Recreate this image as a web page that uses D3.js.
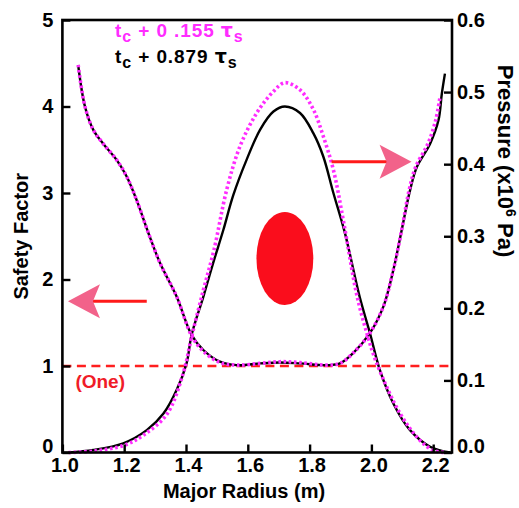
<!DOCTYPE html>
<html>
<head>
<meta charset="utf-8">
<script src="https://cdn.jsdelivr.net/npm/d3@7"></script>
<style>
  body { margin: 0; background: #fff; }
  #chart { width: 519px; height: 508px; }
  text { font-family: "Liberation Sans", Arial, Helvetica, sans-serif; font-weight: bold; }
</style>
</head>
<body>
<div id="chart"></div>
<script>
// safety factor q(R), two times
const qRadiusLate = [1.051, 1.073, 1.10, 1.132, 1.176, 1.208, 1.24, 1.278, 1.316, 1.37, 1.418, 1.456, 1.51, 1.564, 1.64, 1.704, 1.769, 1.855, 1.898, 1.941, 1.995, 2.039, 2.071, 2.098, 2.125, 2.147, 2.19, 2.217, 2.228, 2.238];
const qLate = [4.48, 4.0, 3.73, 3.57, 3.38, 3.19, 2.92, 2.54, 2.19, 1.80, 1.36, 1.185, 1.05, 1.01, 1.03, 1.04, 1.03, 1.01, 1.03, 1.15, 1.38, 1.69, 2.11, 2.57, 3.03, 3.30, 3.57, 3.84, 4.15, 4.38];
const qRadiusEarly = [1.051, 1.073, 1.10, 1.132, 1.176, 1.208, 1.24, 1.278, 1.316, 1.37, 1.418, 1.456, 1.51, 1.564, 1.64, 1.704, 1.769, 1.855, 1.898, 1.941, 1.995, 2.039, 2.071, 2.098, 2.122, 2.143, 2.183, 2.208, 2.222];
const qEarly = [4.48, 4.0, 3.73, 3.57, 3.38, 3.19, 2.92, 2.54, 2.19, 1.80, 1.35, 1.17, 1.04, 1.01, 1.03, 1.05, 1.04, 1.01, 1.03, 1.15, 1.38, 1.69, 2.11, 2.57, 3.03, 3.30, 3.57, 3.84, 4.11];

// pressure (x10^6 Pa)
const pRadiusLate = [1.02, 1.10, 1.197, 1.273, 1.327, 1.37, 1.402, 1.418, 1.456, 1.488, 1.521, 1.553, 1.596, 1.64, 1.683, 1.72, 1.769, 1.812, 1.844, 1.877, 1.914, 1.962, 1.995, 2.027, 2.071, 2.125, 2.19, 2.254];
const pLate = [0.0, 0.0035, 0.0128, 0.031, 0.054, 0.087, 0.124, 0.163, 0.216, 0.263, 0.309, 0.357, 0.406, 0.448, 0.473, 0.480, 0.471, 0.443, 0.411, 0.360, 0.305, 0.216, 0.166, 0.115, 0.068, 0.031, 0.008, 0.0];
const pRadiusEarly = [1.02, 1.1, 1.2, 1.262, 1.338, 1.391, 1.418, 1.456, 1.49, 1.532, 1.575, 1.629, 1.683, 1.72, 1.769, 1.812, 1.844, 1.877, 1.91, 1.952, 1.985, 2.017, 2.093, 2.157, 2.2, 2.24];
const pEarly = [0, 0.002, 0.01, 0.024, 0.053, 0.11, 0.16, 0.225, 0.28, 0.365, 0.425, 0.471, 0.501, 0.513, 0.503, 0.476, 0.439, 0.392, 0.32, 0.22, 0.166, 0.124, 0.054, 0.017, 0.003, 0];

// ticks
const radiusTicks = [1.0, 1.2, 1.4, 1.6, 1.8, 2.0, 2.2];
const qTicks = [0, 1, 2, 3, 4, 5];
const pTicks = [0.0, 0.1, 0.2, 0.3, 0.4, 0.5, 0.6];

// annotations (data units)
const plasma = {R: 1.72, q: 2.243, rR: 0.092, rq: 0.538};
const arrowQ = {from: 1.273, to: 1.018, q: 1.75};
const arrowP = {from: 1.871, to: 2.13, q: 3.36};

const width = 519, height = 508;
const margin = {top: 20, right: 67, bottom: 55.5, left: 62.4};
const plotWidth = width - margin.left - margin.right;
const plotHeight = height - margin.top - margin.bottom;

const svg = d3.select("#chart").append("svg")
    .attr("width", width)
    .attr("height", height);

const x = d3.scaleLinear().domain([1.0, 1.0 + plotWidth / 309]).range([margin.left, margin.left + plotWidth]);
const yQ = d3.scaleLinear().domain([0, 5]).range([margin.top + plotHeight, margin.top]);
const yP = d3.scaleLinear().domain([0, 0.6]).range([margin.top + plotHeight, margin.top]);

// q = 1 line
svg.append("line")
    .attr("x1", x.range()[0]).attr("x2", x.range()[1])
    .attr("y1", yQ(1)).attr("y2", yQ(1))
    .attr("stroke", "#ff1f1f").attr("stroke-width", 2.6)
    .attr("stroke-dasharray", "9,5.5");

svg.append("text")
    .attr("x", x(1.0) + 13).attr("y", yQ(1) + 22)
    .attr("font-size", 19).attr("fill", "#f01c28")
    .text("(One)");

// plasma cross-section
svg.append("ellipse")
    .attr("cx", x(plasma.R)).attr("cy", yQ(plasma.q))
    .attr("rx", x(plasma.R + plasma.rR) - x(plasma.R))
    .attr("ry", yQ(plasma.q) - yQ(plasma.q + plasma.rq))
    .attr("fill", "#fa0d1c");

// curves
const lineQ = d3.line().x(d => x(d[0])).y(d => yQ(d[1])).curve(d3.curveCatmullRom.alpha(0.5));
const lineP = d3.line().x(d => x(d[0])).y(d => yP(d[1])).curve(d3.curveCatmullRom.alpha(0.5));

const series = [
    {path: lineQ(d3.zip(qRadiusLate, qLate)), late: true},
    {path: lineP(d3.zip(pRadiusLate, pLate)), late: true},
    {path: lineQ(d3.zip(qRadiusEarly, qEarly)), late: false},
    {path: lineP(d3.zip(pRadiusEarly, pEarly)), late: false}
];

svg.append("g").attr("id", "plot")
  .selectAll("path")
  .data(series)
  .join("path")
    .attr("d", d => d.path)
    .attr("fill", "none")
    .attr("stroke", d => d.late ? "#000" : "#ff2cff")
    .attr("stroke-width", d => d.late ? 2.4 : 3.6)
    .attr("stroke-dasharray", d => d.late ? null : "2.6,2.6");

// arrows
function arrow(a) {
    const x0 = x(a.from), x1 = x(a.to), y0 = yQ(a.q);
    const dir = Math.sign(x1 - x0);
    const g = svg.append("g");
    g.append("line")
        .attr("x1", x0).attr("x2", x1 - dir * 24)
        .attr("y1", y0).attr("y2", y0)
        .attr("stroke", "#ff1a1a").attr("stroke-width", 3);
    g.append("path")
        .attr("d", `M${x1},${y0} L${x1 - dir * 32},${y0 - 17} L${x1 - dir * 25},${y0} L${x1 - dir * 32},${y0 + 17} Z`)
        .attr("fill", "#f2628a");
}
arrow(arrowQ);
arrow(arrowP);

// axes
const axisFont = g => g.selectAll("text").attr("font-size", 20).attr("fill", "#000")
    .attr("font-family", "'Liberation Sans', Arial, sans-serif").attr("font-weight", "bold");

svg.append("g").attr("class", "xAxis")
    .attr("transform", `translate(0,${margin.top + plotHeight})`)
    .call(d3.axisBottom(x).tickValues(radiusTicks).tickFormat(d3.format(".1f"))
        .tickSizeInner(-8).tickSizeOuter(0).tickPadding(5))
    .call(axisFont)
    .call(g => g.select(".domain").remove())
    .call(g => g.selectAll("text").attr("dx", 2));

svg.append("g").attr("class", "yAxis")
    .attr("transform", `translate(${margin.left},0)`)
    .call(d3.axisLeft(yQ).tickValues(qTicks).tickFormat(d3.format("d"))
        .tickSizeInner(-8).tickSizeOuter(0).tickPadding(9))
    .call(axisFont)
    .call(g => g.select(".domain").remove())
    .call(g => g.selectAll(".tick text").filter(d => d === 0).attr("dy", "-0.02em"));

svg.append("g").attr("class", "yAxisRight")
    .attr("transform", `translate(${margin.left + plotWidth},0)`)
    .call(d3.axisRight(yP).tickValues(pTicks).tickFormat(d3.format(".1f"))
        .tickSizeInner(-8).tickSizeOuter(0).tickPadding(5))
    .call(axisFont)
    .call(g => g.select(".domain").remove())
    .call(g => g.selectAll(".tick text").filter(d => d === 0).attr("dy", "-0.02em"));

svg.selectAll(".tick line").attr("stroke", "#000").attr("stroke-width", 2.4);

// frame
svg.append("rect")
    .attr("x", margin.left).attr("y", margin.top)
    .attr("width", plotWidth).attr("height", plotHeight)
    .attr("fill", "none").attr("stroke", "#000").attr("stroke-width", 2.6);

// axis titles
svg.append("text")
    .attr("x", 244).attr("y", 498)
    .attr("text-anchor", "middle").attr("font-size", 20)
    .text("Major Radius (m)");

svg.append("text")
    .attr("transform", `translate(28,${margin.top + plotHeight / 2}) rotate(-90)`)
    .attr("text-anchor", "middle").attr("font-size", 20)
    .text("Safety Factor");

const pt = svg.append("text")
    .attr("transform", "translate(498,161) rotate(90)")
    .attr("text-anchor", "middle").attr("font-size", 22);
pt.append("tspan").text("Pressure  (x10");
pt.append("tspan").attr("font-size", 14).attr("dy", -8).text("6");
pt.append("tspan").attr("dy", 8).text(" Pa)");

// legend
const legend = [
    {label: "0 .155", color: "#ff2cff", y: 36.5},
    {label: "0.879", color: "#000", y: 63}
];
legend.forEach(l => {
    const t = svg.append("text").attr("x", 115).attr("y", l.y)
        .attr("font-size", 19).attr("letter-spacing", 0.9).attr("fill", l.color);
    t.append("tspan").text("t");
    t.append("tspan").attr("font-size", 16).attr("dy", 5).text("c");
    t.append("tspan").attr("dy", -5).text(" + " + l.label + " ");
    t.append("tspan").attr("font-family", "'DejaVu Sans', sans-serif").text("τ");
    t.append("tspan").attr("font-size", 16).attr("dy", 5).text("s");
});
</script>
</body>
</html>
